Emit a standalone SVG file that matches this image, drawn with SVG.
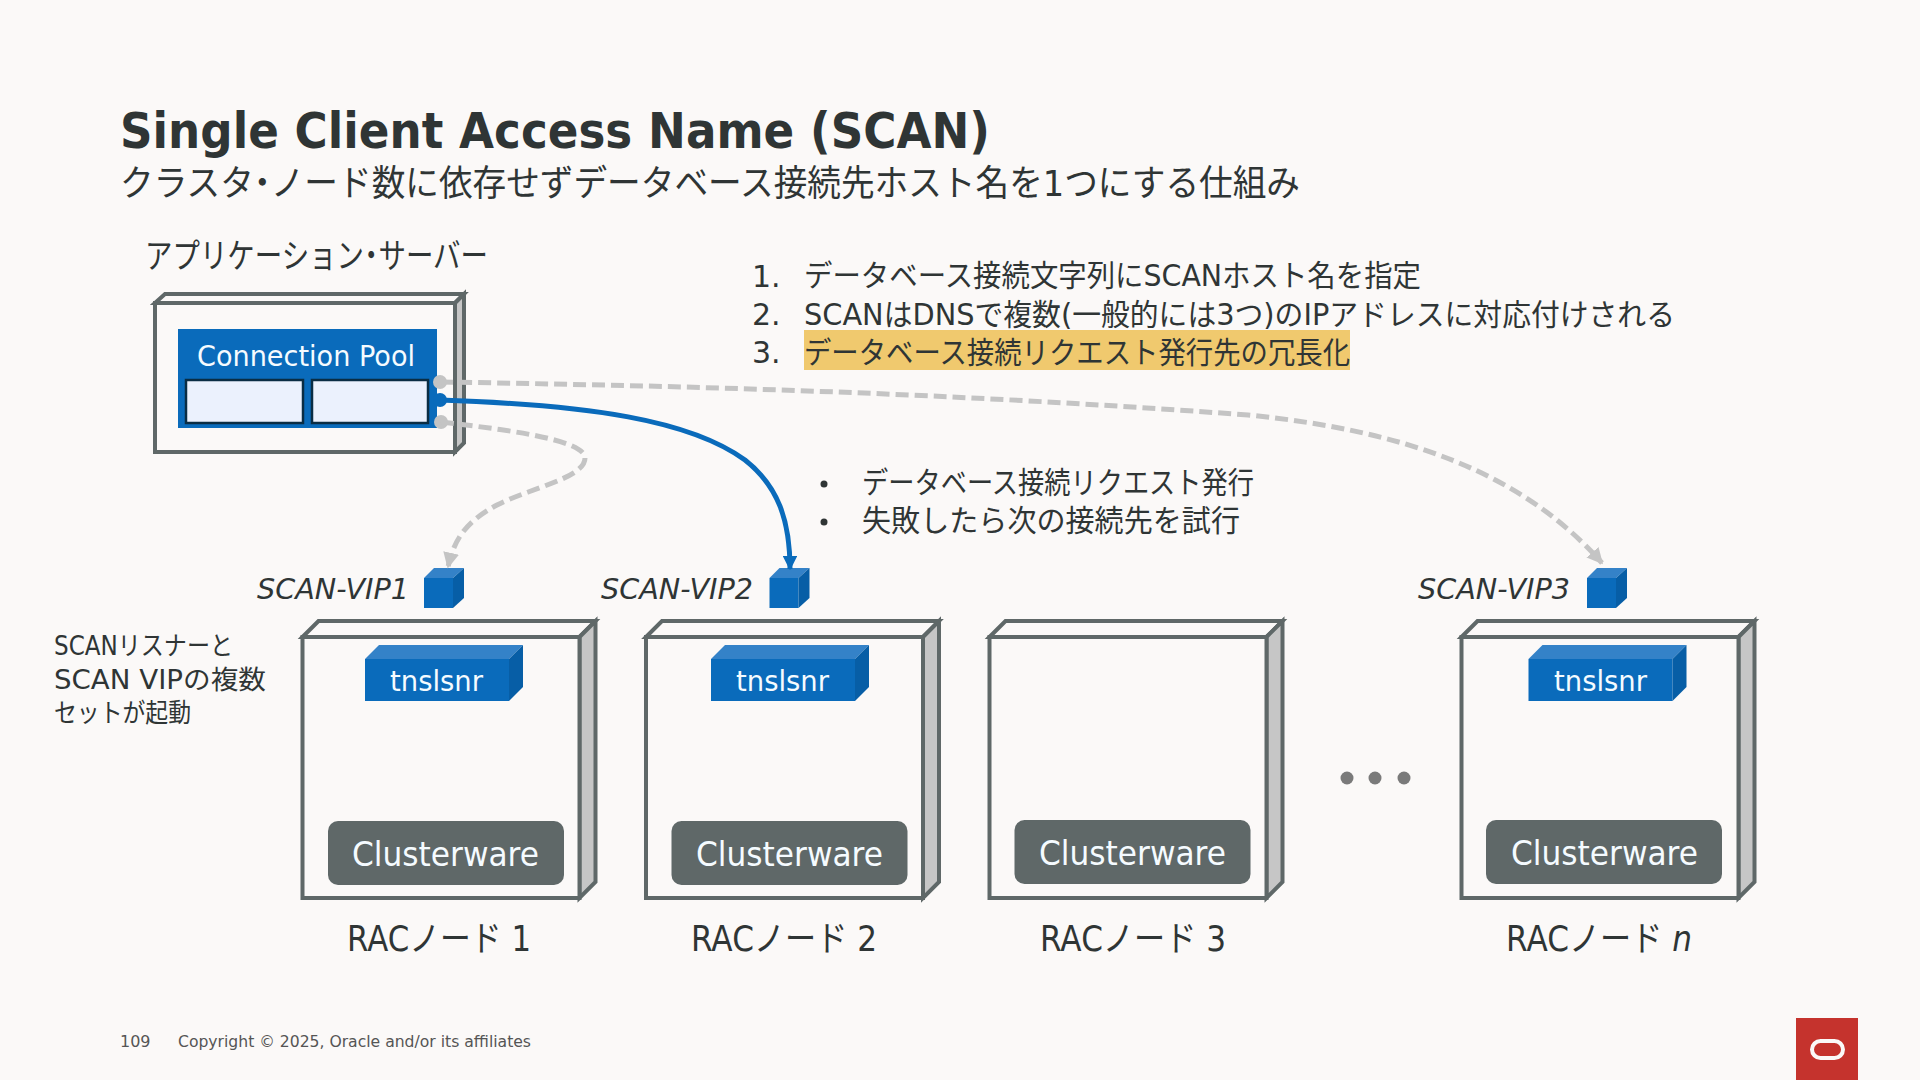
<svg xmlns="http://www.w3.org/2000/svg" width="1920" height="1080" viewBox="0 0 1920 1080">
<style>
text{font-family:"DejaVu Sans","Noto Sans CJK JP",sans-serif;fill:#2f3535}
.w{fill:#f5fbff}
.it{font-style:italic;font-size:28px}
.lab{font-size:35px}
.body{font-size:30px}
.f{fill:#fbf9f8;stroke:#5f6868;stroke-width:4;stroke-linejoin:miter}
.s{fill:#c6c6c6;stroke:#5f6868;stroke-width:4}
.blue{fill:#0a6bbb}.bt{fill:#3482c8}.br{fill:#075ea6}
.cw{fill:#5f6868}
.d{fill:none;stroke:#c4c4c4;stroke-width:5;stroke-dasharray:13 6}
</style>
<defs>
<marker id="ag" viewBox="0 0 10 10" refX="9" refY="5" markerWidth="3.2" markerHeight="3.2" orient="auto"><path d="M0 0L10 5L0 10Z" fill="#c4c4c4"/></marker>
<marker id="ab" viewBox="0 0 10 10" refX="9" refY="5" markerWidth="2.9" markerHeight="2.9" orient="auto"><path d="M0 0L10 5L0 10Z" fill="#0a6bbb"/></marker>
<g id="cube"><path class="blue" d="M0 10H29V40H0Z"/><path class="bt" d="M0 10L10 0H40L29 10Z"/><path class="br" d="M29 10L40 0V30L29 40Z"/></g>
<g id="box"><path class="f" d="M0 16L16 0H293L277 16Z"/><path class="s" d="M277 16L293 0V261L277 277Z"/><rect class="f" x="0" y="16" width="277" height="261"/></g>
<g id="tns"><path class="blue" d="M0 14H144V56H0Z"/><path class="bt" d="M0 14L14 0H158L144 14Z"/><path class="br" d="M144 14L158 0V42L144 56Z"/></g>
</defs>
<rect width="1920" height="1080" fill="#fbf9f8"/>

<text x="120" y="148" font-size="50" font-weight="700" textLength="870" lengthAdjust="spacingAndGlyphs">Single Client Access Name (SCAN)</text>
<text x="120" y="196" font-size="36" textLength="1180" lengthAdjust="spacingAndGlyphs">クラスタ<tspan dx="-9">・</tspan><tspan dx="-9">ノード数に依存せずデータベース接続先ホスト名を1つにする仕組み</tspan></text>

<g id="app-server">
<text x="145" y="268" font-size="34" textLength="343" lengthAdjust="spacingAndGlyphs">アプリケーション<tspan dx="-8">・</tspan><tspan dx="-8">サーバー</tspan></text>
<path class="f" d="M155 303L165 294H464L455 303Z"/><path class="s" d="M455 303L464 294V443L455 452Z"/><rect class="f" x="155" y="303" width="300" height="149"/>
<rect x="178" y="329" width="259" height="99" class="blue"/>
<rect x="186" y="380" width="117" height="43" fill="#ebf1fd" stroke="#0a2d44" stroke-width="2.5"/>
<rect x="312" y="380" width="116" height="43" fill="#ebf1fd" stroke="#0a2d44" stroke-width="2.5"/>
<text class="w" x="197" y="366" font-size="28" textLength="218" lengthAdjust="spacingAndGlyphs">Connection Pool</text>
</g>

<g id="steps">
<rect x="804" y="330" width="546" height="40" fill="#f0c96e"/>
<text class="body" x="752" y="287">1.</text><text class="body" x="804" y="286" textLength="617" lengthAdjust="spacingAndGlyphs">データベース接続文字列にSCANホスト名を指定</text>
<text class="body" x="752" y="325">2.</text><text class="body" x="804" y="325" textLength="871" lengthAdjust="spacingAndGlyphs">SCANはDNSで複数(一般的には3つ)のIPアドレスに対応付けされる</text>
<text class="body" x="752" y="363">3.</text><text class="body" x="804" y="363" textLength="546" lengthAdjust="spacingAndGlyphs">データベース接続リクエスト発行先の冗長化</text>
</g>
<g id="notes">
<circle cx="824" cy="484" r="3.5" fill="#2f3535"/><text class="body" x="862" y="493" textLength="392" lengthAdjust="spacingAndGlyphs">データベース接続リクエスト発行</text>
<circle cx="824" cy="522" r="3.5" fill="#2f3535"/><text class="body" x="862" y="531" textLength="378" lengthAdjust="spacingAndGlyphs">失敗したら次の接続先を試行</text>
</g>

<g id="note-left">
<text x="54" y="655" font-size="26" textLength="179" lengthAdjust="spacingAndGlyphs">SCANリスナーと</text>
<text x="54" y="689" font-size="26" textLength="212" lengthAdjust="spacingAndGlyphs">SCAN VIPの複数</text>
<text x="54" y="722" font-size="26" textLength="137" lengthAdjust="spacingAndGlyphs">セットが起動</text>
</g>

<g id="node-1"><use href="#box" x="302.5" y="621"/><use href="#tns" x="365" y="645"/><text class="w" x="390" y="691" font-size="28" textLength="93" lengthAdjust="spacingAndGlyphs">tnslsnr</text><rect class="cw" x="328" y="821" width="236" height="64" rx="10"/><text class="w" x="352" y="866" font-size="33" textLength="187" lengthAdjust="spacingAndGlyphs">Clusterware</text><text class="lab" x="347" y="951" textLength="184" lengthAdjust="spacingAndGlyphs">RACノード 1</text></g>
<g id="node-2"><use href="#box" x="646" y="621"/><use href="#tns" x="711" y="645"/><text class="w" x="736" y="691" font-size="28" textLength="93" lengthAdjust="spacingAndGlyphs">tnslsnr</text><rect class="cw" x="671.5" y="821" width="236" height="64" rx="10"/><text class="w" x="696" y="866" font-size="33" textLength="187" lengthAdjust="spacingAndGlyphs">Clusterware</text><text class="lab" x="691" y="951" textLength="186" lengthAdjust="spacingAndGlyphs">RACノード 2</text></g>
<g id="node-3"><use href="#box" x="989.5" y="621"/><rect class="cw" x="1014.5" y="820" width="236" height="64" rx="10"/><text class="w" x="1039" y="865" font-size="33" textLength="187" lengthAdjust="spacingAndGlyphs">Clusterware</text><text class="lab" x="1040" y="951" textLength="186" lengthAdjust="spacingAndGlyphs">RACノード 3</text></g>
<g id="node-n"><use href="#box" x="1461.5" y="621"/><use href="#tns" x="1528.5" y="645"/><text class="w" x="1554" y="691" font-size="28" textLength="93" lengthAdjust="spacingAndGlyphs">tnslsnr</text><rect class="cw" x="1486" y="820" width="236" height="64" rx="10"/><text class="w" x="1511" y="865" font-size="33" textLength="187" lengthAdjust="spacingAndGlyphs">Clusterware</text><text class="lab" x="1506" y="951" textLength="186" lengthAdjust="spacingAndGlyphs">RACノード <tspan font-style="italic">n</tspan></text></g>

<g id="vips">
<g id="vip1"><text class="it" x="257" y="599" textLength="152" lengthAdjust="spacingAndGlyphs">SCAN-VIP1</text><use href="#cube" x="424" y="568"/></g>
<g id="vip2"><text class="it" x="601" y="599" textLength="152" lengthAdjust="spacingAndGlyphs">SCAN-VIP2</text><use href="#cube" x="769.5" y="568"/></g>
<g id="vip3"><text class="it" x="1418" y="599" textLength="152" lengthAdjust="spacingAndGlyphs">SCAN-VIP3</text><use href="#cube" x="1587" y="568"/></g>
</g>
<g id="ellipsis" fill="#7a7a7a"><circle cx="1347" cy="778" r="6.5"/><circle cx="1375" cy="778" r="6.5"/><circle cx="1404" cy="778" r="6.5"/></g>

<g id="connectors">
<circle cx="440" cy="382" r="7" fill="#c4c4c4"/><circle cx="441" cy="422" r="7" fill="#c4c4c4"/><circle cx="440" cy="400" r="7" fill="#0a6bbb"/>
<path class="d" marker-end="url(#ag)" d="M440 382C700 386 950 393 1248 415C1400 430 1520 470 1602 563"/>
<path class="d" marker-end="url(#ag)" d="M441 422C490 428 585 438 585 458C585 478 530 488 497 505C465 522 454 540 448 567"/>
<path fill="none" stroke="#0a6bbb" stroke-width="5" marker-end="url(#ab)" d="M440 400C590 405 690 420 745 460C778 486 790 520 790 569"/>
</g>

<g id="footer">
<text x="120" y="1047" font-size="16" style="fill:#555">109</text>
<text x="178" y="1047" font-size="16" style="fill:#555" textLength="353" lengthAdjust="spacingAndGlyphs">Copyright © 2025, Oracle and/or its affiliates</text>
<rect x="1796" y="1018" width="62" height="62" fill="#c5332d"/>
<rect x="1812" y="1041" width="31" height="17" rx="8.5" fill="none" stroke="#fbf9f8" stroke-width="4"/>
</g>
</svg>
